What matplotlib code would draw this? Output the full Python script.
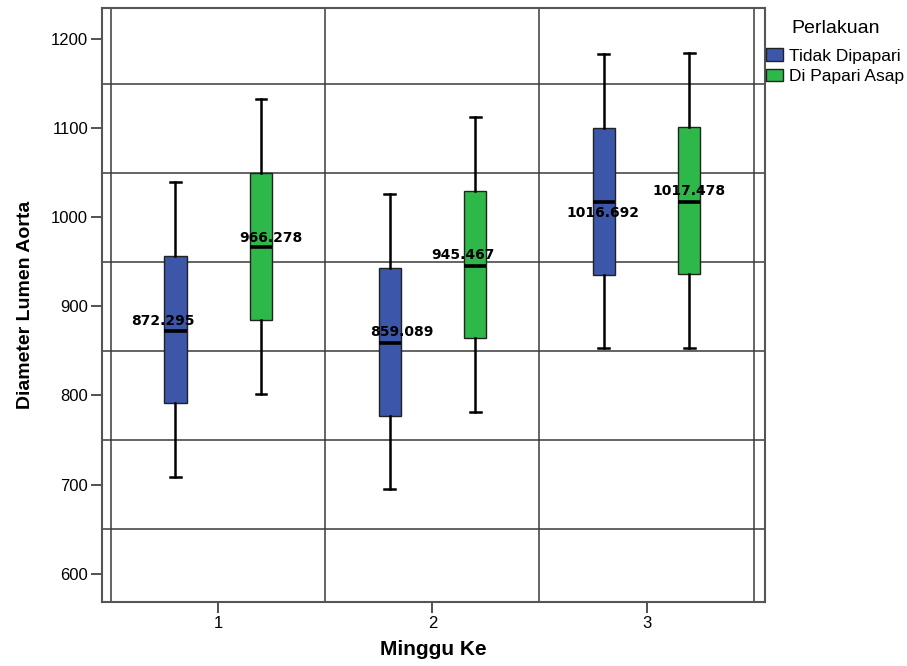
import numpy as np
import matplotlib
matplotlib.use("Agg")
import matplotlib.pyplot as plt
from matplotlib.ticker import MultipleLocator
from matplotlib.patches import Patch

plt.rcParams['font.family'] = ['Liberation Sans', 'DejaVu Sans']

# ===== data =====
minggu = [1, 2, 3]
kelompok = ['Tidak Dipapari', 'Di Papari Asap']

# Tidak Dipapari
tidak_whislo = [708, 695, 853]
tidak_q1 = [791, 777, 935]
tidak_med = [872.295, 859.089, 1016.692]
tidak_q3 = [956, 943, 1100]
tidak_whishi = [1039, 1026, 1183]

# Di Papari Asap
asap_whislo = [802, 781, 853]
asap_q1 = [885, 864, 936]
asap_med = [966.278, 945.467, 1017.478]
asap_q3 = [1050, 1029, 1101]
asap_whishi = [1133, 1112, 1184]

warna = ['#3c56aa', '#2fb84a']

# label offsets (points) for the median labels
lbl_dx = [[-9, 8.5, -0.5], [7, -9, 0]]
lbl_dy = [[7.5, 8, -7.5], [7, 7.5, 7.5]]


def make_stats(lo, q1, med, q3, hi):
    return [dict(whislo=a, q1=b, med=c, q3=d, whishi=e, fliers=[])
            for a, b, c, d, e in zip(lo, q1, med, q3, hi)]


stats = [
    make_stats(tidak_whislo, tidak_q1, tidak_med, tidak_q3, tidak_whishi),
    make_stats(asap_whislo, asap_q1, asap_med, asap_q3, asap_whishi),
]
medians = [tidak_med, asap_med]

fig = plt.figure(figsize=(9.07, 6.66), dpi=100)
ax = fig.add_axes([0.1125, 0.0966, 0.7309, 0.8909])

offsets = [-0.2, 0.2]
for k in range(2):
    pos = [m + offsets[k] for m in minggu]
    ax.bxp(stats[k], positions=pos, widths=0.103, patch_artist=True,
           showfliers=False,
           boxprops=dict(facecolor=warna[k], edgecolor='#222222', linewidth=1.0),
           medianprops=dict(color='black', linewidth=2.6),
           whiskerprops=dict(color='black', linewidth=1.8),
           capprops=dict(color='black', linewidth=1.8),
           capwidths=0.05, zorder=3)
    for i, p in enumerate(pos):
        ax.annotate(f"{medians[k][i]:.3f}", xy=(p, medians[k][i]),
                    xytext=(lbl_dx[k][i], lbl_dy[k][i]), textcoords='offset points',
                    ha='center', va='center', fontsize=10, fontweight='bold',
                    family='DejaVu Sans', zorder=5)

ax.set_xlim(0.457, 3.553)
ax.set_ylim(568.6, 1234.4)
ax.set_xticks(minggu)
ax.set_xticklabels([str(m) for m in minggu])
ax.yaxis.set_major_locator(MultipleLocator(100))
ax.yaxis.set_minor_locator(MultipleLocator(100, offset=50))
ax.xaxis.set_minor_locator(MultipleLocator(1, offset=0.5))
ax.grid(which='minor', color='#3a3a3a', linewidth=1.1, zorder=0)
ax.set_axisbelow(True)
ax.tick_params(which='minor', length=0)
ax.tick_params(which='major', labelsize=12, color='#333333', width=1.2,
               length=8, pad=2)

for s in ax.spines.values():
    s.set_color('#555555')
    s.set_linewidth(1.5)

ax.set_ylabel('Diameter Lumen Aorta', fontsize=14, fontweight='bold', labelpad=12)
ax.set_xlabel('Minggu Ke', fontsize=15, fontweight='bold', labelpad=7)

handles = [Patch(facecolor=warna[k], edgecolor='#222222', label=kelompok[k])
           for k in range(2)]
leg = fig.legend(handles=handles, title='Perlakuan', loc='upper left',
                 bbox_to_anchor=(766 / 907, 1 - 20 / 666), frameon=False,
                 fontsize=12.5, title_fontsize=14, borderpad=0, borderaxespad=0,
                 handlelength=1.0, handleheight=0.75, handletextpad=0.35,
                 labelspacing=0.3)
leg._legend_box.sep = 8

fig.savefig('out.png', dpi=100)
